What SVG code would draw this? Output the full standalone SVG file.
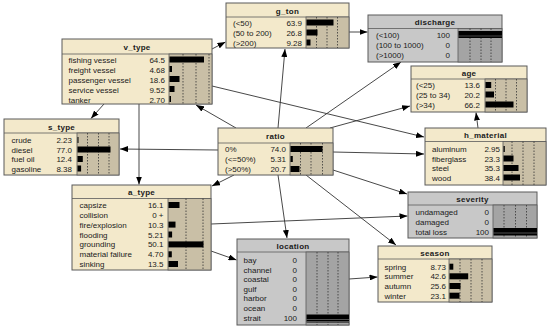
<svg xmlns="http://www.w3.org/2000/svg" width="550" height="328" viewBox="0 0 550 328">
<style>
.box{fill:#f3e9cb;stroke:#5a5a5a;stroke-width:1}
.gbox{fill:#c8c8c8;stroke:#5a5a5a;stroke-width:1}
.bar{fill:#c9bfa6;stroke:#5a5a5a;stroke-width:0.8}
.gbar{fill:#a4a4a4;stroke:#5a5a5a;stroke-width:0.8}
.sep{stroke:#5a5a5a;stroke-width:0.8}
.dot{stroke:#333;stroke-width:0.8;stroke-dasharray:1.5,1.5}
.b{fill:#000}
text{font-family:"Liberation Sans",Arial,sans-serif;font-size:8px;fill:#1a1a1a}
.t{font-weight:bold;text-anchor:middle;letter-spacing:0.3px}
.v{text-anchor:end}
.conn line{stroke:#333;stroke-width:0.9;marker-end:url(#ah)}
</style>
<defs>
<marker id="ah" markerWidth="8" markerHeight="6" refX="8" refY="3" orient="auto" markerUnits="userSpaceOnUse">
<path d="M0,0 L8,3 L0,6 Z" fill="#000"/>
</marker>
</defs>
<rect width="550" height="328" fill="#fff"/>

<g class="conn">
<line x1="236" y1="128" x2="196" y2="105"/>
<line x1="278" y1="128" x2="285" y2="49"/>
<line x1="306" y1="128" x2="401" y2="62"/>
<line x1="330" y1="128" x2="410" y2="106"/>
<line x1="212" y1="86" x2="424" y2="137"/>
<line x1="333" y1="152" x2="424" y2="154"/>
<line x1="333" y1="170" x2="407" y2="194"/>
<line x1="306" y1="175" x2="396" y2="245"/>
<line x1="278" y1="175" x2="287" y2="238"/>
<line x1="234" y1="175" x2="212" y2="186"/>
<line x1="218" y1="150" x2="120" y2="149"/>
<line x1="104" y1="104" x2="91" y2="118.5"/>
<line x1="139" y1="104" x2="139" y2="184.5"/>
<line x1="212" y1="49" x2="225.5" y2="42"/>
<line x1="349" y1="32" x2="367.5" y2="32"/>
<line x1="478" y1="128" x2="476" y2="112.5"/>
<line x1="211" y1="224" x2="407.5" y2="216"/>
<line x1="211" y1="251" x2="236.5" y2="260"/>
<line x1="349" y1="279" x2="377.5" y2="277"/>
</g>

<g id="v_type">
<rect class="box" x="62" y="39" width="150" height="65"/>
<line class="sep" x1="62" y1="54" x2="212" y2="54"/>
<rect class="bar" x="169" y="54" width="43" height="50"/>
<line class="dot" x1="183" y1="54" x2="183" y2="104"/>
<line class="dot" x1="196" y1="54" x2="196" y2="104"/>
<line class="dot" x1="209" y1="54" x2="209" y2="104"/>
<text class="t" x="137" y="50">v_type</text>
<text x="68.5" y="63">fishing vessel</text><text class="v" x="165" y="63">64.5</text><rect class="b" x="169.5" y="56.5" width="34.5" height="6"/>
<text x="68.5" y="72.5">freight vessel</text><text class="v" x="165" y="72.5">4.68</text><rect class="b" x="169.5" y="66" width="2.5" height="6"/>
<text x="68.5" y="82.5">passenger vessel</text><text class="v" x="165" y="82.5">18.6</text><rect class="b" x="169.5" y="76" width="10" height="6"/>
<text x="68.5" y="92.5">service vessel</text><text class="v" x="165" y="92.5">9.52</text><rect class="b" x="169.5" y="86" width="5" height="6"/>
<text x="68.5" y="102.5">tanker</text><text class="v" x="165" y="102.5">2.70</text><rect class="b" x="169.5" y="96" width="1.5" height="6"/>
</g>

<g id="g_ton">
<rect class="box" x="226" y="3" width="123" height="45"/>
<line class="sep" x1="226" y1="17" x2="349" y2="17"/>
<rect class="bar" x="306" y="17" width="43" height="31"/>
<line class="dot" x1="316.5" y1="17" x2="316.5" y2="48"/>
<line class="dot" x1="327" y1="17" x2="327" y2="48"/>
<line class="dot" x1="337.5" y1="17" x2="337.5" y2="48"/>
<text class="t" x="287.5" y="13.5">g_ton</text>
<text x="233" y="25.7">(&lt;50)</text><text class="v" x="302" y="25.7">63.9</text><rect class="b" x="306.5" y="19.5" width="27" height="6"/>
<text x="233" y="35.7">(50 to 200)</text><text class="v" x="302" y="35.7">26.8</text><rect class="b" x="306.5" y="29.5" width="11" height="6"/>
<text x="233" y="45.7">(&gt;200)</text><text class="v" x="302" y="45.7">9.28</text><rect class="b" x="306.5" y="39.5" width="4" height="6"/>
</g>

<g id="discharge">
<rect class="gbox" x="368" y="15" width="134" height="47"/>
<line class="sep" x1="368" y1="28.5" x2="502" y2="28.5"/>
<rect class="gbar" x="458" y="28.5" width="44" height="33.5"/>
<line class="dot" x1="470" y1="28.5" x2="470" y2="62"/>
<line class="dot" x1="481" y1="28.5" x2="481" y2="62"/>
<line class="dot" x1="491" y1="28.5" x2="491" y2="62"/>
<text class="t" x="435" y="25">discharge</text>
<text x="376" y="38">(&lt;100)</text><text class="v" x="450" y="38">100</text><rect class="b" x="458.5" y="31" width="43.5" height="7"/><line x1="458.5" y1="36" x2="502" y2="36" stroke="#777" stroke-width="0.6"/>
<text x="376" y="48">(100 to 1000)</text><text class="v" x="450" y="48">0</text>
<text x="376" y="58">(&gt;1000)</text><text class="v" x="450" y="58">0</text>
</g>

<g id="age">
<rect class="box" x="411" y="66" width="116" height="46"/>
<line class="sep" x1="411" y1="79" x2="527" y2="79"/>
<rect class="bar" x="485" y="79" width="42" height="33"/>
<line class="dot" x1="495.5" y1="79" x2="495.5" y2="112"/>
<line class="dot" x1="506" y1="79" x2="506" y2="112"/>
<line class="dot" x1="516.5" y1="79" x2="516.5" y2="112"/>
<text class="t" x="469" y="75.5">age</text>
<text x="416" y="88">(&lt;25)</text><text class="v" x="480" y="88">13.6</text><rect class="b" x="485.5" y="82" width="5.7" height="6"/>
<text x="416" y="97.5">(25 to 34)</text><text class="v" x="480" y="97.5">20.2</text><rect class="b" x="485.5" y="91.5" width="8.5" height="6"/>
<text x="416" y="107.5">(&gt;34)</text><text class="v" x="480" y="107.5">66.2</text><rect class="b" x="485.5" y="101.5" width="28" height="6"/>
</g>

<g id="h_material">
<rect class="box" x="425" y="128" width="121" height="57"/>
<line class="sep" x1="425" y1="141.5" x2="546" y2="141.5"/>
<rect class="bar" x="503" y="141.5" width="43" height="43.5"/>
<line class="dot" x1="512" y1="141.5" x2="512" y2="185"/>
<line class="dot" x1="523" y1="141.5" x2="523" y2="185"/>
<line class="dot" x1="534" y1="141.5" x2="534" y2="185"/>
<text class="t" x="485.5" y="138">h_material</text>
<text x="432" y="152">aluminum</text><text class="v" x="500" y="152">2.95</text><rect class="b" x="503.5" y="146" width="1.3" height="6"/>
<text x="432" y="161.5">fiberglass</text><text class="v" x="500" y="161.5">23.3</text><rect class="b" x="503.5" y="155.5" width="10" height="6"/>
<text x="432" y="171">steel</text><text class="v" x="500" y="171">35.3</text><rect class="b" x="503.5" y="165" width="15" height="6"/>
<text x="432" y="180.5">wood</text><text class="v" x="500" y="180.5">38.4</text><rect class="b" x="503.5" y="174.5" width="16.5" height="6"/>
</g>

<g id="s_type">
<rect class="box" x="4" y="119" width="115" height="56"/>
<line class="sep" x1="4" y1="133" x2="119" y2="133"/>
<rect class="bar" x="77" y="133" width="42" height="42"/>
<line class="dot" x1="87.5" y1="133" x2="87.5" y2="175"/>
<line class="dot" x1="98.5" y1="133" x2="98.5" y2="175"/>
<line class="dot" x1="109" y1="133" x2="109" y2="175"/>
<text class="t" x="61.5" y="129.5">s_type</text>
<text x="11.5" y="143">crude</text><text class="v" x="72" y="143">2.23</text><rect class="b" x="77.5" y="137" width="1" height="6"/>
<text x="11.5" y="152.5">diesel</text><text class="v" x="72" y="152.5">77.0</text><rect class="b" x="77.5" y="146.5" width="33" height="6"/>
<text x="11.5" y="162">fuel oil</text><text class="v" x="72" y="162">12.4</text><rect class="b" x="77.5" y="156" width="5.3" height="6"/>
<text x="11.5" y="171.5">gasoline</text><text class="v" x="72" y="171.5">8.38</text><rect class="b" x="77.5" y="165.5" width="3.6" height="6"/>
</g>

<g id="ratio">
<rect class="box" x="218" y="128" width="115" height="47"/>
<line class="sep" x1="218" y1="143" x2="333" y2="143"/>
<rect class="bar" x="290" y="143" width="43" height="32"/>
<line class="dot" x1="300.5" y1="143" x2="300.5" y2="175"/>
<line class="dot" x1="311" y1="143" x2="311" y2="175"/>
<line class="dot" x1="322.5" y1="143" x2="322.5" y2="175"/>
<text class="t" x="275.5" y="139">ratio</text>
<text x="225" y="152">0%</text><text class="v" x="286" y="152">74.0</text><rect class="b" x="290.5" y="146" width="32" height="6"/>
<text x="225" y="162">(&lt;=50%)</text><text class="v" x="286" y="162">5.31</text><rect class="b" x="290.5" y="156" width="2.3" height="6"/>
<text x="225" y="172">(&gt;50%)</text><text class="v" x="286" y="172">20.7</text><rect class="b" x="290.5" y="166" width="9" height="6"/>
</g>

<g id="a_type">
<rect class="box" x="72" y="185" width="139" height="85"/>
<line class="sep" x1="72" y1="198.5" x2="211" y2="198.5"/>
<rect class="bar" x="168" y="198.5" width="43" height="71.5"/>
<line class="dot" x1="186" y1="198.5" x2="186" y2="270"/>
<line class="dot" x1="203" y1="198.5" x2="203" y2="270"/>
<text class="t" x="141.5" y="195">a_type</text>
<text x="79.5" y="208">capsize</text><text class="v" x="163.5" y="208">16.1</text><rect class="b" x="168.5" y="202" width="11" height="6"/>
<text x="79.5" y="217.7">collision</text><text class="v" x="163.5" y="217.7">0 +</text>
<text x="79.5" y="227.6">fire/explosion</text><text class="v" x="163.5" y="227.6">10.3</text><rect class="b" x="168.5" y="221.6" width="7" height="6"/>
<text x="79.5" y="237.5">flooding</text><text class="v" x="163.5" y="237.5">5.21</text><rect class="b" x="168.5" y="231.5" width="3.6" height="6"/>
<text x="79.5" y="247.4">grounding</text><text class="v" x="163.5" y="247.4">50.1</text><rect class="b" x="168.5" y="241.4" width="35" height="6"/>
<text x="79.5" y="257.3">material failure</text><text class="v" x="163.5" y="257.3">4.70</text><rect class="b" x="168.5" y="251.3" width="3.3" height="6"/>
<text x="79.5" y="267">sinking</text><text class="v" x="163.5" y="267">13.5</text><rect class="b" x="168.5" y="261" width="9.5" height="6"/>
</g>

<g id="location">
<rect class="gbox" x="237" y="239" width="112" height="86"/>
<line class="sep" x1="237" y1="252" x2="349" y2="252"/>
<rect class="gbar" x="306" y="252" width="43" height="73"/>
<line class="dot" x1="317" y1="252" x2="317" y2="325"/>
<line class="dot" x1="328" y1="252" x2="328" y2="325"/>
<line class="dot" x1="338" y1="252" x2="338" y2="325"/>
<text class="t" x="293" y="248.5">location</text>
<text x="243.5" y="263">bay</text><text class="v" x="297" y="263">0</text>
<text x="243.5" y="272.6">channel</text><text class="v" x="297" y="272.6">0</text>
<text x="243.5" y="282.2">coastal</text><text class="v" x="297" y="282.2">0</text>
<text x="243.5" y="291.8">gulf</text><text class="v" x="297" y="291.8">0</text>
<text x="243.5" y="301.4">harbor</text><text class="v" x="297" y="301.4">0</text>
<text x="243.5" y="311">ocean</text><text class="v" x="297" y="311">0</text>
<text x="243.5" y="320.6">strait</text><text class="v" x="297" y="320.6">100</text>
<rect class="b" x="306.5" y="314.5" width="42.5" height="8"/>
<line x1="306.5" y1="319.5" x2="349" y2="319.5" stroke="#888" stroke-width="0.6"/>
<line x1="306.5" y1="321.5" x2="349" y2="321.5" stroke="#888" stroke-width="0.6"/>
</g>

<g id="severity">
<rect class="gbox" x="408" y="192" width="129" height="46"/>
<line class="sep" x1="408" y1="205" x2="537" y2="205"/>
<rect class="gbar" x="493" y="205" width="44" height="33"/>
<line class="dot" x1="504" y1="205" x2="504" y2="238"/>
<line class="dot" x1="515.5" y1="205" x2="515.5" y2="238"/>
<line class="dot" x1="526.5" y1="205" x2="526.5" y2="238"/>
<text class="t" x="472.5" y="201.5">severity</text>
<text x="415.5" y="215.3">undamaged</text><text class="v" x="489" y="215.3">0</text>
<text x="415.5" y="225">damaged</text><text class="v" x="489" y="225">0</text>
<text x="415.5" y="234.7">total loss</text><text class="v" x="489" y="234.7">100</text>
<rect class="b" x="493.5" y="228" width="43.5" height="7.5"/>
<line x1="493.5" y1="233" x2="537" y2="233" stroke="#888" stroke-width="0.6"/>
</g>

<g id="season">
<rect class="box" x="378" y="246" width="114" height="56"/>
<line class="sep" x1="378" y1="259" x2="492" y2="259"/>
<rect class="bar" x="449" y="259" width="43" height="43"/>
<line class="dot" x1="460" y1="259" x2="460" y2="302"/>
<line class="dot" x1="471" y1="259" x2="471" y2="302"/>
<line class="dot" x1="482" y1="259" x2="482" y2="302"/>
<text class="t" x="435" y="255.5">season</text>
<text x="384.5" y="269.7">spring</text><text class="v" x="446" y="269.7">8.73</text><rect class="b" x="449.5" y="263.7" width="3.8" height="6"/>
<text x="384.5" y="279.3">summer</text><text class="v" x="446" y="279.3">42.6</text><rect class="b" x="449.5" y="273.3" width="18.7" height="6"/>
<text x="384.5" y="289">autumn</text><text class="v" x="446" y="289">25.6</text><rect class="b" x="449.5" y="283" width="11" height="6"/>
<text x="384.5" y="298.7">winter</text><text class="v" x="446" y="298.7">23.1</text><rect class="b" x="449.5" y="292.7" width="10" height="6"/>
</g>
</svg>
